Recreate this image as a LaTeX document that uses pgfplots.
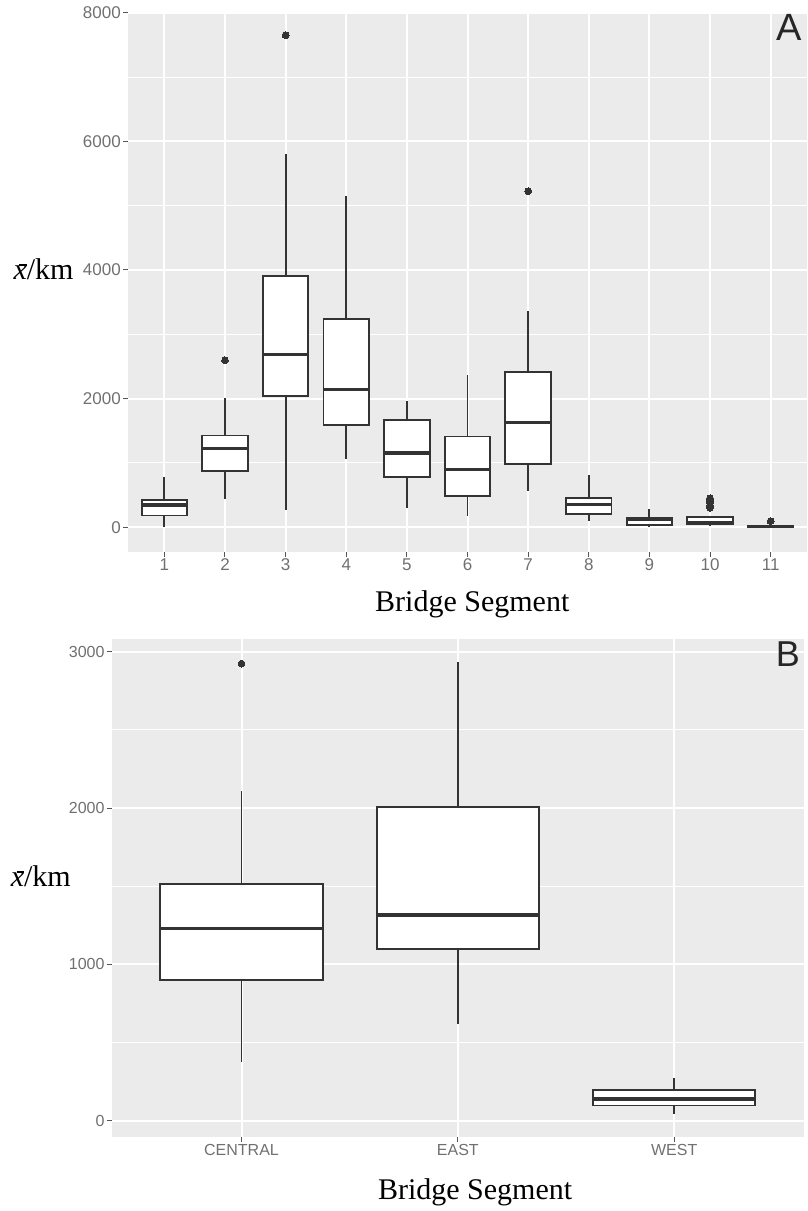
\documentclass[border=0pt]{standalone}
\usepackage{fontspec}
\setmainfont{Liberation Serif}
\newfontfamily\sans{Liberation Sans}
\usepackage{pgfplots}
\usepgfplotslibrary{statistics}
\pgfplotsset{compat=1.18}

\definecolor{panelbg}{HTML}{EBEBEB}
\definecolor{boxline}{HTML}{333333}
\definecolor{ticktext}{HTML}{707070}
\definecolor{tickline}{HTML}{555555}

% x with a short bar over its right half, set in the serif italic
\newcommand\xbar{\textit{x}\llap{\rule[0.46em]{0.25em}{0.05em}}}

\pgfplotsset{
  gg/.style={
    scale only axis,
    axis background/.style={fill=panelbg},
    axis line style={draw=none},
    tick align=outside,
    xtick pos=bottom, ytick pos=left,
    major tick length=5pt,
    minor tick length=0pt,
    tick style={draw=tickline, line width=1pt},
    xmajorgrids, ymajorgrids, yminorgrids,
    major grid style={white, line width=2pt},
    minor grid style={white, line width=1pt},
    xticklabel style={inner sep=2pt},
    yticklabel style={inner sep=2pt},
    label style={font=\fontsize{30}{36}\selectfont},
    ylabel style={rotate=-90, anchor=base west},
    xlabel style={anchor=base},
  },
  box/.style={
    boxplot/draw direction=y,
    boxplot/box extend=0.75,
    boxplot/whisker extend=0,
    boxplot/every box/.style={draw=boxline, fill=white},
    boxplot/every median/.style={line width=3.3pt},
    draw=boxline, line width=1.8pt,
    mark=*, mark size=3.4pt,
    mark options={fill=boxline, draw=boxline, line width=0pt},
  },
}

\begin{document}
\begin{tikzpicture}
\useasboundingbox (0,0) rectangle (807pt,1211pt);

% panel A
\begin{axis}[gg,
  at={(128pt,659.3pt)}, anchor=south west,
  width=679pt, height=539pt,
  xmin=0.4, xmax=11.6, ymin=-381, ymax=8001,
  xtick={1,2,3,4,5,6,7,8,9,10,11},
  xticklabels={1,2,3,4,5,6,7,8,9,10,11},
  ytick={0,2000,4000,6000,8000},
  yticklabels={0,2000,4000,6000,8000},
  minor ytick={1000,3000,5000,7000},
  ticklabel style={font=\sans\fontsize{17}{19}\selectfont, text=ticktext},
  xlabel={Bridge Segment},
  xlabel style={at={(axis description cs:0.507,-0.1113)}},
  ylabel={\xbar/km},
  ylabel style={at={(axis description cs:-0.1738,0.505)}},
]
\addplot[box, boxplot prepared={draw position=1, lower whisker=0, lower quartile=182, median=343, upper quartile=427, upper whisker=786}] coordinates {};
\addplot[box, boxplot prepared={draw position=2, lower whisker=432, lower quartile=873, median=1227, upper quartile=1425, upper whisker=2002}] coordinates {(0,2594)};
\addplot[box, boxplot prepared={draw position=3, lower whisker=265, lower quartile=2043, median=2682, upper quartile=3912, upper whisker=5801}] coordinates {(0,7650)};
\addplot[box, boxplot prepared={draw position=4, lower whisker=1056, lower quartile=1591, median=2137, upper quartile=3239, upper whisker=5157}] coordinates {};
\addplot[box, boxplot prepared={draw position=5, lower whisker=292, lower quartile=780, median=1154, upper quartile=1669, upper whisker=1955}] coordinates {};
\addplot[box, boxplot prepared={draw position=6, lower whisker=172, lower quartile=489, median=895, upper quartile=1409, upper whisker=2365}] coordinates {};
\addplot[box, boxplot prepared={draw position=7, lower whisker=561, lower quartile=978, median=1628, upper quartile=2412, upper whisker=3368}] coordinates {(0,5224)};
\addplot[box, boxplot prepared={draw position=8, lower whisker=104, lower quartile=203, median=349, upper quartile=448, upper whisker=817}] coordinates {};
\addplot[box, boxplot prepared={draw position=9, lower whisker=0, lower quartile=37, median=115, upper quartile=151, upper whisker=287}] coordinates {};
\addplot[box, boxplot prepared={draw position=10, lower whisker=16, lower quartile=42, median=68, upper quartile=162, upper whisker=170}] coordinates {(0,300) (0,340) (0,380) (0,420) (0,450)};
\addplot[box, boxplot prepared={draw position=11, lower whisker=0, lower quartile=2, median=8, upper quartile=15, upper whisker=30}] coordinates {(0,94)};
\node[anchor=base east, font=\sans\fontsize{38}{40}\selectfont, text=black!85] at (axis description cs:0.997,0.948) {A};
\end{axis}

% panel B
\begin{axis}[gg,
  at={(111.7pt,74.3pt)}, anchor=south west,
  width=692.3pt, height=497.4pt,
  xmin=0.4, xmax=3.6, ymin=-102, ymax=3080,
  xtick={1,2,3},
  xticklabels={CENTRAL,EAST,WEST},
  ytick={0,1000,2000,3000},
  yticklabels={0,1000,2000,3000},
  minor ytick={500,1500,2500},
  ticklabel style={font=\sans\fontsize{16}{18}\selectfont, text=ticktext},
  xlabel={Bridge Segment},
  xlabel style={at={(axis description cs:0.525,-0.127)}},
  ylabel={\xbar/km},
  ylabel style={at={(axis description cs:-0.1508,0.5026)}},
]
\addplot[box, boxplot prepared={draw position=1, lower whisker=374, lower quartile=902, median=1231, upper quartile=1516, upper whisker=2111}] coordinates {(0,2924)};
\addplot[box, boxplot prepared={draw position=2, lower whisker=619, lower quartile=1100, median=1316, upper quartile=2009, upper whisker=2937}] coordinates {};
\addplot[box, boxplot prepared={draw position=3, lower whisker=41, lower quartile=98, median=139, upper quartile=198, upper whisker=271}] coordinates {};
\node[anchor=base east, font=\sans\fontsize{36}{40}\selectfont, text=black!85] at (axis description cs:0.999,0.946) {B};
\end{axis}
\end{tikzpicture}
\end{document}
